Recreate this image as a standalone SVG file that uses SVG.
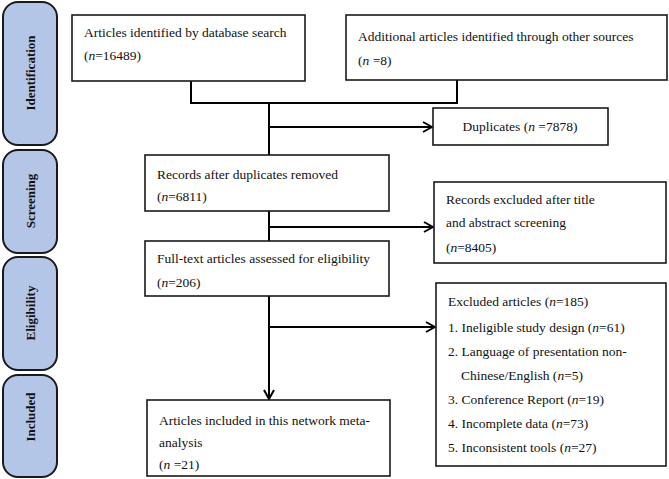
<svg xmlns="http://www.w3.org/2000/svg" width="669" height="479" viewBox="0 0 669 479">
<defs>
<style>
.pill{fill:#b4c6e7;stroke:#1a1a1a;stroke-width:2}
.box{fill:#fff;stroke:#1a1a1a;stroke-width:1.6}
.t{font-family:"Liberation Serif","Times New Roman",serif;font-size:13.5px;fill:#111}
.st{font-family:"Liberation Serif","Times New Roman",serif;font-size:13px;font-weight:bold;fill:#111;text-anchor:middle}
.ln{fill:none;stroke:#000;stroke-width:2}
</style>
<marker id="arr" viewBox="0 0 12 12" refX="11" refY="6" markerWidth="12" markerHeight="12" markerUnits="userSpaceOnUse" orient="auto">
<path d="M2,1 L11,6 L2,11" fill="none" stroke="#000" stroke-width="2"/>
</marker>
</defs>
<rect width="669" height="479" fill="#fff"/>
<g id="stage-identification"><rect class="pill" x="3" y="2" width="54" height="143" rx="15"/><text class="st" transform="translate(34.5,73) rotate(-90)">Identification</text></g>
<g id="stage-screening"><rect class="pill" x="3" y="150" width="54" height="103" rx="15"/><text class="st" transform="translate(34.5,201) rotate(-90)">Screening</text></g>
<g id="stage-eligibility"><rect class="pill" x="3" y="257" width="54" height="113" rx="15"/><text class="st" transform="translate(34.5,313) rotate(-90)">Eligibility</text></g>
<g id="stage-included"><rect class="pill" x="3" y="375" width="54" height="102" rx="15"/><text class="st" transform="translate(34.5,417) rotate(-90)">Included</text></g>
<g id="connectors">
<polyline class="ln" points="191,81 191,103 457,103 457,80"/>
<line class="ln" x1="269" y1="103" x2="269" y2="155"/>
<line class="ln" x1="269" y1="127" x2="432" y2="127" marker-end="url(#arr)"/>
<line class="ln" x1="269" y1="211" x2="269" y2="241"/>
<line class="ln" x1="269" y1="227" x2="433" y2="227" marker-end="url(#arr)"/>
<line class="ln" x1="269" y1="296" x2="269" y2="399" marker-end="url(#arr)"/>
<line class="ln" x1="269" y1="327" x2="435" y2="327" marker-end="url(#arr)"/>
</g>
<g id="db-search"><rect class="box" x="72" y="15" width="233" height="66"/><text class="t" x="84" y="37">Articles identified by database search</text><text class="t" x="84" y="60">(<tspan font-style="italic">n</tspan>=16489)</text></g>
<g id="other-sources"><rect class="box" x="346" y="15" width="321" height="65"/><text class="t" x="358" y="41">Additional articles identified through other sources</text><text class="t" x="358" y="65">(<tspan font-style="italic">n</tspan> =8)</text></g>
<g id="duplicates"><rect class="box" x="433" y="108" width="175" height="37"/><text class="t" x="520" y="131" text-anchor="middle">Duplicates (<tspan font-style="italic">n</tspan> =7878)</text></g>
<g id="records"><rect class="box" x="145" y="155" width="244" height="56"/><text class="t" x="157" y="179">Records after duplicates removed</text><text class="t" x="157" y="201">(<tspan font-style="italic">n</tspan>=6811)</text></g>
<g id="excluded-screening"><rect class="box" x="434" y="182" width="232" height="81"/><text class="t" x="446" y="204">Records excluded after title</text><text class="t" x="446" y="227">and abstract screening</text><text class="t" x="446" y="252">(<tspan font-style="italic">n</tspan>=8405)</text></g>
<g id="fulltext"><rect class="box" x="145" y="241" width="244" height="55"/><text class="t" x="157" y="263">Full-text articles assessed for eligibility</text><text class="t" x="157" y="287">(<tspan font-style="italic">n</tspan>=206)</text></g>
<g id="excluded-articles"><rect class="box" x="436" y="283" width="230" height="183"/>
<text class="t" x="448" y="306">Excluded articles (<tspan font-style="italic">n</tspan>=185)</text>
<text class="t" x="448" y="332">1. Ineligible study design (<tspan font-style="italic">n</tspan>=61)</text>
<text class="t" x="448" y="356">2. Language of presentation non-</text>
<text class="t" x="461" y="380">Chinese/English (<tspan font-style="italic">n</tspan>=5)</text>
<text class="t" x="448" y="404">3. Conference Report (<tspan font-style="italic">n</tspan>=19)</text>
<text class="t" x="448" y="428">4. Incomplete data (<tspan font-style="italic">n</tspan>=73)</text>
<text class="t" x="448" y="452">5. Inconsistent tools (<tspan font-style="italic">n</tspan>=27)</text>
</g>
<g id="included"><rect class="box" x="147" y="400" width="243" height="76"/><text class="t" x="159" y="425">Articles included in this network meta-</text><text class="t" x="159" y="447">analysis</text><text class="t" x="159" y="469">(<tspan font-style="italic">n</tspan> =21)</text></g>
</svg>
